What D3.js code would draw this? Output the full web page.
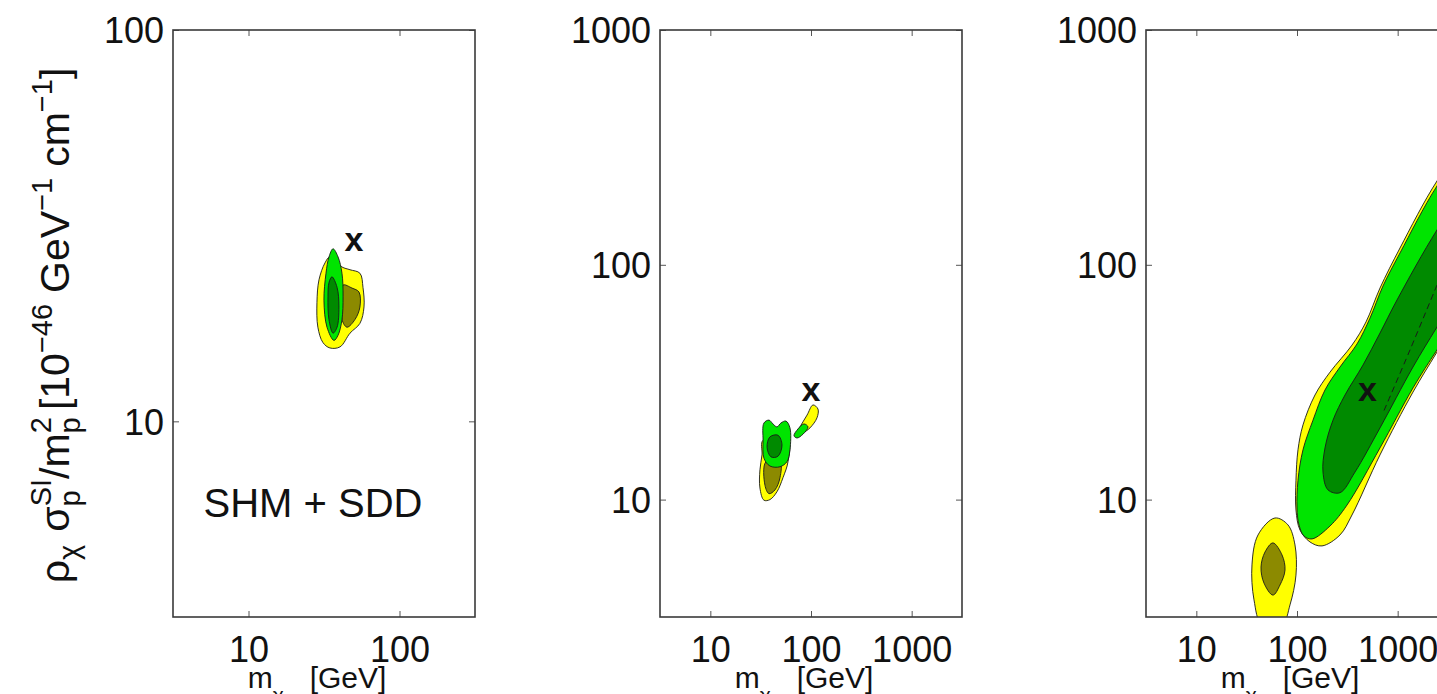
<!DOCTYPE html>
<html>
<head>
<meta charset="utf-8">
<script src="https://cdn.jsdelivr.net/npm/d3@7"></script>
<style>
  html, body { margin: 0; padding: 0; background: #fff; }
  svg text { font-family: "Liberation Sans", Arial, Helvetica, sans-serif; fill: #111; }
</style>
</head>
<body>
<svg id="chart" width="1437" height="694"></svg>
<script>
// ---- axis ticks -------------------------------------------------------
const massTicksNarrow = [10, 100];
const massTicksWide = [10, 100, 1000];
const rateTicksNarrow = [10, 100];
const rateTicksWide = [10, 100, 1000];
const massDomainNarrow = [Math.sqrt(10), Math.pow(10, 2.5)];
const massDomainWide = [Math.sqrt(10), Math.pow(10, 3.5)];
const rateDomainNarrow = [Math.sqrt(10), 100];
const rateDomainWide = [Math.sqrt(10), 1000];

// ---- best-fit points [m_chi (GeV), rate] --------------------------------
const bestFit = [[50, 28.7], [100, 28.7], [500, 28.7]];

// ---- credible regions, [m_chi (GeV), rho*sigma/m^2] ---------------------
// panel 1 (SHM + SDD)
const p1Yellow = [[34.6,26.3],[41.6,24.8],[47.0,24.4],[54.7,23.9],[57.3,22.0],[58.2,19.6],[54.7,17.8],[47.0,16.8],[40.4,15.5],[34.6,15.4],[31.1,15.9],[28.8,17.4],[28.4,20.1],[29.3,23.0],[32.1,25.4]];
const p1Olive = [[42.3,22.3],[48.5,21.9],[53.9,21.4],[54.7,19.6],[50.7,18.2],[44.9,17.4],[41.6,18.2],[41.6,20.4]];
const p1Green = [[36.3,27.6],[39.2,26.3],[41.6,23.9],[42.3,20.8],[41.6,18.2],[39.2,16.6],[36.8,16.1],[33.1,17.4],[31.6,20.4],[32.6,23.9],[34.1,26.3]];
const p1DarkGreen = [[35.7,23.4],[38.6,22.0],[39.7,19.6],[38.6,17.4],[36.3,16.8],[34.1,18.2],[33.6,20.8],[34.1,22.6]];

// panel 2
const p2Yellow = [[33.4,17.9],[59.1,17.9],[59.1,14.5],[52.7,12.4],[45.9,10.8],[39.1,10.0],[34.1,9.94],[31.1,11.2],[31.1,13.4],[32.6,15.5]];
const p2Olive = [[35.7,14.5],[49.2,14.5],[49.2,12.4],[43.9,11.0],[38.3,10.6],[34.9,11.5]];
const p2Green = [[34.1,21.2],[38.3,21.8],[41.9,21.0],[45.9,20.4],[50.3,21.2],[56.4,21.6],[61.8,20.2],[61.8,16.3],[57.7,14.5],[49.2,13.8],[39.1,13.9],[34.1,15.0],[33.4,17.9]];
const p2DarkGreen = [[39.1,18.5],[47.0,18.8],[51.5,17.1],[47.0,15.3],[40.1,15.2],[36.6,16.7]];
const p2YellowHigh = [[104.7,25.3],[117.3,24.3],[114.7,22.3],[97.7,20.2],[83.3,19.2],[72.6,18.5],[71.0,19.0],[77.7,20.4],[91.3,22.9]];
const p2GreenHigh = [[85.2,21.0],[93.4,20.4],[83.3,19.0],[72.6,18.3],[67.8,18.7],[74.3,20.0]];

// panel 3
const p3Yellow = [[177.2,6.35],[267.3,7.07],[351.8,8.60],[667.5,15.5],[1420,28.7],[2458,42.5],[5865,78.1],[5865,375],[2458,227.5],[1054.6,117.9],[667.5,79.6],[484.6,57.1],[351.8,45.5],[212.7,34.9],[150.9,27.9],[114.7,20.8],[102.3,16.3],[97.7,12.1],[97.7,9.03],[107.1,7.42],[134.6,6.60]];
const p3Green = [[140.9,6.80],[212.7,7.72],[313.9,9.48],[667.5,16.6],[1420,29.9],[2458,43.4],[5865,75.8],[5865,357],[2458,216.6],[1054.6,112.3],[714.9,81.2],[531.1,59.3],[394.5,46.0],[267.3,36.7],[189.7,29.3],[144.2,21.8],[114.7,16.3],[102.3,12.1],[100,9.21],[104.7,7.80],[117.3,7.00]];
const p3DarkGreen = [[5865,241.3],[2458,140.7],[984.7,70.8],[667.5,51.2],[452.3,37.4],[299.9,27.9],[227.9,21.8],[189.7,16.6],[181.2,13.1],[203.2,11.0],[267.3,10.7],[376.8,13.1],[667.5,20.2],[1420,36.7],[2458,54.3],[5865,99.8]];
const p3DashedRidge = [[2458,82.0],[1326,43.4],[715,23.4]];
const p3YellowLow = [[60.4,8.35],[81.4,7.80],[95.5,6.41],[97.7,4.77],[85.2,3.56],[71.0,2.92],[44.9,2.92],[37.4,3.74],[35.7,5.27],[41.0,7.07]];
const p3OliveLow = [[57.7,6.54],[71.0,5.81],[76.0,5.01],[67.8,4.33],[57.7,3.92],[47.0,4.41],[43.9,5.16],[48.1,5.98]];

const YELLOW = "#ffff00", OLIVE = "#8c8a00", GREEN = "#00e400", DARK_GREEN = "#008a00";

const panels = [
  { left: 173, xDomain: massDomainNarrow, yDomain: rateDomainNarrow, xTicks: massTicksNarrow, yTicks: rateTicksNarrow,
    regions: [[p1Yellow, YELLOW], [p1Olive, OLIVE], [p1Green, GREEN], [p1DarkGreen, DARK_GREEN]],
    dashed: [], best: bestFit[0], note: "SHM + SDD" },
  { left: 660, xDomain: massDomainWide, yDomain: rateDomainWide, xTicks: massTicksWide, yTicks: rateTicksWide,
    regions: [[p2Yellow, YELLOW], [p2Olive, OLIVE], [p2Green, GREEN], [p2DarkGreen, DARK_GREEN],
              [p2YellowHigh, YELLOW], [p2GreenHigh, GREEN]],
    dashed: [], best: bestFit[1] },
  { left: 1146, xDomain: massDomainWide, yDomain: rateDomainWide, xTicks: massTicksWide, yTicks: rateTicksWide,
    regions: [[p3YellowLow, YELLOW], [p3OliveLow, OLIVE], [p3Yellow, YELLOW], [p3Green, GREEN], [p3DarkGreen, DARK_GREEN]],
    dashed: [p3DashedRidge], best: bestFit[2] }
];

const TOP = 30, W = 302, H = 587;
const svg = d3.select("#chart");
const fmt = d3.format("d");

panels.forEach((p, i) => {
  const x = d3.scaleLog().domain(p.xDomain).range([0, W]);
  const y = d3.scaleLog().domain(p.yDomain).range([H, 0]);
  const g = svg.append("g").attr("transform", `translate(${p.left},${TOP})`);

  const clipId = `plot-clip-${i}`;
  g.append("clipPath").attr("id", clipId)
    .append("rect").attr("width", W).attr("height", H);

  const area = g.append("g").attr("clip-path", `url(#${clipId})`);
  const shape = d3.line()
    .x(d => x(d[0])).y(d => y(d[1]))
    .curve(d3.curveCatmullRomClosed.alpha(0.5));
  const ridge = d3.line()
    .x(d => x(d[0])).y(d => y(d[1]))
    .curve(d3.curveCatmullRom.alpha(0.5));

  p.regions.forEach(([pts, fill]) => {
    area.append("path")
      .attr("d", shape(pts))
      .attr("fill", fill)
      .attr("stroke", "#1a1a1a")
      .attr("stroke-width", 0.9)
      .attr("stroke-linejoin", "round");
  });
  p.dashed.forEach(pts => {
    area.append("path")
      .attr("d", ridge(pts))
      .attr("fill", "none")
      .attr("stroke", "#1a1a1a")
      .attr("stroke-width", 1)
      .attr("stroke-dasharray", "6,4");
  });

  // best-fit marker
  area.append("text")
    .attr("x", x(p.best[0])).attr("y", y(p.best[1]))
    .attr("dy", "0.26em")
    .attr("text-anchor", "middle")
    .attr("font-weight", "bold")
    .attr("font-size", 34)
    .text("x");

  // axes: labelled bottom/left, mirrored tick marks top/right
  const axisStyle = sel => {
    sel.select(".domain").remove();
    sel.selectAll(".tick line").attr("stroke", "#555").attr("stroke-width", 1);
    sel.selectAll(".tick text").attr("font-size", 36).attr("fill", "#111");
  };
  g.append("g").attr("transform", `translate(0,${H})`)
    .call(d3.axisBottom(x).tickValues(p.xTicks).tickFormat(fmt).tickSizeInner(-6).tickSizeOuter(0).tickPadding(19))
    .call(axisStyle);
  g.append("g")
    .call(d3.axisLeft(y).tickValues(p.yTicks).tickFormat(fmt).tickSizeInner(-6).tickSizeOuter(0).tickPadding(9))
    .call(axisStyle)
    .selectAll(".tick text").attr("dy", "0.36em");
  g.append("g")
    .call(d3.axisTop(x).tickValues(p.xTicks).tickFormat("").tickSizeInner(-6).tickSizeOuter(0))
    .call(axisStyle);
  g.append("g").attr("transform", `translate(${W},0)`)
    .call(d3.axisRight(y).tickValues(p.yTicks).tickFormat("").tickSizeInner(-6).tickSizeOuter(0))
    .call(axisStyle);

  g.append("rect").attr("width", W).attr("height", H)
    .attr("fill", "none").attr("stroke", "#3a3a3a").attr("stroke-width", 1.6);

  // x axis title; the subscript hangs below the baseline
  const xt = g.append("text")
    .attr("x", W / 2 - 7).attr("y", H + 71)
    .attr("text-anchor", "middle")
    .attr("font-size", 30);
  xt.append("tspan").text("m");
  xt.append("tspan").attr("font-size", 21).attr("dy", 14).text("χ");
  xt.append("tspan").attr("dy", -14).attr("dx", 26).text("[GeV]");

  if (p.note) {
    g.append("text")
      .attr("x", 140).attr("y", 487)
      .attr("text-anchor", "middle")
      .attr("font-size", 40)
      .text(p.note);
  }
});

// y axis title (shared, left of first panel)
const yt = svg.append("text")
  .attr("transform", `translate(69,${TOP + H / 2 + 2}) rotate(-90)`)
  .attr("text-anchor", "middle")
  .attr("font-size", 41);
yt.append("tspan").text("ρ");
yt.append("tspan").attr("font-size", 29).attr("dy", 10).text("χ");
yt.append("tspan").attr("dy", -10).attr("dx", 13).text("σ");
yt.append("tspan").attr("font-size", 29).attr("dy", 11).text("p");
yt.append("tspan").attr("font-size", 29).attr("dy", -29).attr("dx", -16).text("SI");
yt.append("tspan").attr("dy", 18).text("/m");
yt.append("tspan").attr("font-size", 29).attr("dy", 11).text("p");
yt.append("tspan").attr("font-size", 29).attr("dy", -29).attr("dx", -16).text("2");
yt.append("tspan").attr("dy", 18).attr("dx", 7).text("[10");
yt.append("tspan").attr("font-size", 29).attr("dy", -17).text("−46");
yt.append("tspan").attr("dy", 17).attr("dx", 11).text("GeV");
yt.append("tspan").attr("font-size", 29).attr("dy", -17).text("−1");
yt.append("tspan").attr("dy", 17).attr("dx", 11).text("cm");
yt.append("tspan").attr("font-size", 29).attr("dy", -17).text("−1");
yt.append("tspan").attr("dy", 17).text("]");
</script>
</body>
</html>
